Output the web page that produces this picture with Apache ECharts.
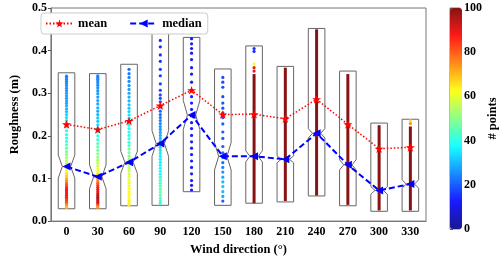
<!DOCTYPE html>
<html>
<head>
<meta charset="utf-8">
<script src="https://cdn.jsdelivr.net/npm/echarts@6/dist/echarts.min.js"></script>
<style>html,body{margin:0;padding:0;background:#fff;}#c{width:500px;height:261px;}</style>
</head>
<body>
<div id="c"></div>
<script>
// ---- data ----
const categories = ['0','30','60','90','120','150','180','210','240','270','300','330'];
const meanValues = [0.227,0.215,0.235,0.271,0.307,0.250,0.251,0.240,0.286,0.227,0.170,0.173];
const medianValues = [0.128,0.104,0.138,0.182,0.249,0.152,0.152,0.145,0.206,0.132,0.072,0.087];
// box: bottom, top, median, notch low, notch high
const boxBottom = [0.029,0.029,0.036,0.037,0.069,0.037,0.042,0.045,0.059,0.036,0.023,0.023];
const boxTop    = [0.348,0.346,0.368,0.465,0.431,0.357,0.411,0.363,0.452,0.352,0.230,0.239];
const notchLow  = [0.101,0.076,0.112,0.152,0.215,0.120,0.139,0.137,0.195,0.120,0.063,0.077];
const notchHigh = [0.155,0.132,0.164,0.212,0.283,0.184,0.165,0.153,0.217,0.144,0.081,0.097];
// dots: [roughness, # points]
const dots0 = [[0.340,24],[0.336,24],[0.332,25],[0.328,25],[0.323,25],[0.318,26],[0.312,26],[0.306,26],[0.300,27],[0.294,27],[0.288,27],[0.282,28],[0.276,28],[0.270,29],[0.263,30],[0.257,31],[0.250,33],[0.243,34],[0.236,35],[0.229,36],[0.221,37],[0.212,38],[0.203,39],[0.195,40],[0.187,42],[0.179,44],[0.171,46],[0.163,48],[0.156,50],[0.149,53],[0.142,55],[0.136,57],[0.130,59],[0.124,61],[0.118,63],[0.112,65],[0.106,68],[0.100,71],[0.095,74],[0.090,78],[0.085,82],[0.080,85],[0.076,87],[0.072,88],[0.068,88],[0.064,88],[0.060,88],[0.056,87],[0.052,86],[0.048,84],[0.044,82],[0.040,78],[0.036,74],[0.032,70]];
const dots30 = [[0.341,24],[0.337,24],[0.333,25],[0.329,25],[0.324,25],[0.319,26],[0.313,26],[0.306,26],[0.299,27],[0.291,27],[0.283,28],[0.275,28],[0.266,29],[0.258,29],[0.250,30],[0.242,31],[0.234,32],[0.226,34],[0.218,36],[0.209,38],[0.200,40],[0.191,42],[0.182,44],[0.174,46],[0.166,48],[0.158,50],[0.150,52],[0.143,54],[0.136,56],[0.129,58],[0.122,60],[0.116,62],[0.110,65],[0.104,68],[0.099,72],[0.094,76],[0.089,80],[0.084,84],[0.079,87],[0.074,89],[0.069,90],[0.064,92],[0.060,94],[0.056,95],[0.052,95],[0.048,94],[0.044,92],[0.040,88],[0.036,80],[0.032,74]];
const dots60 = [[0.356,22],[0.346,23],[0.337,24],[0.328,25],[0.318,26],[0.309,27],[0.300,28],[0.291,29],[0.282,30],[0.273,31],[0.265,32],[0.257,33],[0.249,34],[0.241,35],[0.233,36],[0.225,37],[0.217,38],[0.209,39],[0.201,40],[0.193,41],[0.185,42],[0.177,44],[0.169,46],[0.161,48],[0.153,50],[0.146,52],[0.139,54],[0.132,55],[0.125,56],[0.118,57],[0.111,58],[0.104,59],[0.097,60],[0.090,60],[0.083,61],[0.076,62],[0.069,62],[0.062,63],[0.055,63],[0.048,64],[0.042,64],[0.038,64]];
const dots90 = [[0.443,14],[0.424,14],[0.409,15],[0.390,15],[0.375,15],[0.356,16],[0.341,16],[0.322,17],[0.307,17],[0.296,18],[0.288,18],[0.280,19],[0.268,20],[0.258,21],[0.250,22],[0.243,23],[0.236,24],[0.229,25],[0.222,26],[0.215,27],[0.208,28],[0.201,29],[0.194,30],[0.187,31],[0.180,32],[0.173,33],[0.166,34],[0.159,35],[0.152,35],[0.145,36],[0.138,36],[0.131,37],[0.124,37],[0.117,38],[0.110,38],[0.103,40],[0.096,42],[0.089,44],[0.082,45],[0.075,46],[0.068,46],[0.061,45],[0.054,44],[0.048,42],[0.042,40]];
const dots120 = [[0.428,12],[0.416,12],[0.405,12],[0.394,12],[0.379,12],[0.360,12],[0.345,12],[0.326,12],[0.307,13],[0.292,13],[0.277,13],[0.262,13],[0.247,13],[0.231,13],[0.217,13],[0.201,13],[0.186,13],[0.171,13],[0.156,13],[0.141,13],[0.126,13],[0.111,13],[0.095,13],[0.084,12],[0.073,12]];
const dots150 = [[0.337,18],[0.326,18],[0.314,18],[0.292,18],[0.277,19],[0.265,19],[0.254,20],[0.243,20],[0.228,20],[0.209,20],[0.194,20],[0.175,20],[0.160,21],[0.149,22],[0.137,22],[0.126,24],[0.115,26],[0.103,28],[0.092,30],[0.081,31],[0.069,30],[0.058,28],[0.047,20]];
const dots180 = [[0.405,15],[0.398,15],[0.369,62],[0.360,88],[0.352,90]];
const dots330 = [[0.235,65],[0.229,75]];
// dense strips of points: [category index, low, # points, high]
const strips = [[6,0.042,100,0.345],[7,0.047,100,0.360],[8,0.060,100,0.450],[9,0.038,100,0.345],[10,0.025,100,0.225],[11,0.025,100,0.222]];
const colorTicks = [0,20,40,60,80,100];

// ---- build ----
const dotSets = {0:dots0,1:dots30,2:dots60,3:dots90,4:dots120,5:dots150,6:dots180,11:dots330};
const scatterData = [];
Object.keys(dotSets).forEach(k => dotSets[k].forEach(d => scatterData.push([+k, d[0], d[1]])));
const boxData = categories.map((c,i) => [i, boxBottom[i], boxTop[i], medianValues[i], notchLow[i], notchHigh[i]]);

const FONT = 'Liberation Serif';
const lbl = {fontFamily: FONT, fontWeight: 'bold', fontSize: 12, color: '#000'};
const jet = ['#19198e','#1919ff','#198bff','#19ffff','#8bff8b','#ffff19','#ff8b19','#ff1919','#861414'];
const STAR = 'path://M50,0 L61.8,35.1 L97.6,35.1 L68.8,56.8 L79.4,91.2 L50,70.3 L20.6,91.2 L31.2,56.8 L2.4,35.1 L38.2,35.1 Z';

const chart = echarts.init(document.getElementById('c'), null, {renderer: 'canvas'});
chart.setOption({
  animation: false,
  backgroundColor: '#fff',
  grid: [
    {left: 36, right: 74, top: 8, bottom: 32, show: true, borderColor: '#777', borderWidth: 1},
    {left: 450, width: 12, top: 8, bottom: 32, show: true, borderColor: '#777', borderWidth: 1}
  ],
  legend: {
    data: ['mean','median'], left: 41, top: 13, orient: 'horizontal',
    itemWidth: 27, itemHeight: 10, itemGap: 22, padding: [4, 6, 4, 4],
    borderColor: '#ccc', borderWidth: 1, borderRadius: 3, backgroundColor: '#fff',
    textStyle: {fontFamily: FONT, fontWeight: 'bold', fontSize: 12.5, color: '#000'}
  },
  xAxis: [
    {type: 'category', data: categories, gridIndex: 0,
     name: 'Wind direction (°)', nameLocation: 'middle', nameGap: 21,
     nameTextStyle: {fontFamily: FONT, fontWeight: 'bold', fontSize: 12.5, color: '#000'},
     axisLine: {lineStyle: {color: '#777'}},
     axisTick: {alignWithLabel: true, length: 3, lineStyle: {color: '#555'}},
     axisLabel: Object.assign({margin: 5}, lbl), splitLine: {show: false}},
    {type: 'value', gridIndex: 1, show: false, min: 0, max: 1}
  ],
  yAxis: [
    {type: 'value', gridIndex: 0, min: 0, max: 0.5, interval: 0.1,
     name: 'Roughness (m)', nameLocation: 'middle', nameGap: 23,
     nameTextStyle: {fontFamily: FONT, fontWeight: 'bold', fontSize: 12.5, color: '#000'},
     axisLine: {show: true, lineStyle: {color: '#777'}},
     axisTick: {show: true, length: 3, lineStyle: {color: '#555'}},
     axisLabel: Object.assign({margin: 4, formatter: v => v.toFixed(1)}, lbl),
     splitLine: {show: false}},
    {type: 'value', gridIndex: 1, position: 'right', min: 0, max: 100, interval: 20,
     name: '# points', nameLocation: 'middle', nameGap: 26,
     nameTextStyle: {fontFamily: FONT, fontWeight: 'bold', fontSize: 12.5, color: '#000'},
     axisLine: {show: false},
     axisTick: {show: true, length: 3, lineStyle: {color: '#555'}},
     axisLabel: Object.assign({margin: 4}, lbl),
     splitLine: {show: false}}
  ],
  visualMap: {
    type: 'continuous', min: 0, max: 100, dimension: 2, seriesIndex: [1, 2],
    orient: 'vertical', left: 450, top: 8, itemWidth: 12, itemHeight: 221,
    padding: 0, calculable: false, hoverLink: false, text: null, showLabel: false,
    inRange: {color: jet}
  },
  series: [
    {type: 'custom', name: 'box', xAxisIndex: 0, yAxisIndex: 0, z: 1,
     data: boxData,
     renderItem: function (params, api) {
       const x = api.value(0);
       const pB = api.coord([x, api.value(1)]);
       const pT = api.coord([x, api.value(2)]);
       const pM = api.coord([x, api.value(3)]);
       const pL = api.coord([x, api.value(4)]);
       const pH = api.coord([x, api.value(5)]);
       const w = api.size([1, 0])[0] * 0.265;
       const cx = pB[0];
       const pts = [[cx-w,pB[1]],[cx+w,pB[1]],[cx+w,pL[1]],[cx+w/2,pM[1]],[cx+w,pH[1]],[cx+w,pT[1]],
                    [cx-w,pT[1]],[cx-w,pH[1]],[cx-w/2,pM[1]],[cx-w,pL[1]]];
       return {type: 'group', children: [
         {type: 'polygon', shape: {points: pts}, style: {fill: 'none', stroke: '#666', lineWidth: 1}},
         {type: 'line', shape: {x1: cx-w/2, y1: pM[1], x2: cx+w/2, y2: pM[1]}, style: {stroke: '#ff7f0e', lineWidth: 1}}
       ]};
     }},
    {type: 'scatter', name: 'dots', xAxisIndex: 0, yAxisIndex: 0, z: 2,
     symbolSize: 3.2, data: scatterData, itemStyle: {opacity: 1}},
    {type: 'custom', name: 'strips', xAxisIndex: 0, yAxisIndex: 0, z: 2,
     encode: {x: 0, y: [1, 3]},
     data: strips,
     renderItem: function (params, api) {
       const x = api.value(0);
       const p1 = api.coord([x, api.value(1)]);
       const p2 = api.coord([x, api.value(3)]);
       return {type: 'line', shape: {x1: p1[0], y1: p1[1], x2: p2[0], y2: p2[1]},
               style: {stroke: api.visual('color'), lineWidth: 3}};
     }},
    {type: 'line', name: 'mean', xAxisIndex: 0, yAxisIndex: 0, z: 5, data: meanValues,
     symbol: STAR, symbolKeepAspect: true, symbolSize: 9, color: '#ff0000',
     itemStyle: {color: '#ff0000'},
     lineStyle: {color: '#ff0000', width: 1.5, type: [1.5, 2]}},
    {type: 'line', name: 'median', xAxisIndex: 0, yAxisIndex: 0, z: 5, data: medianValues,
     symbol: 'triangle', symbolRotate: 90, symbolSize: 8, color: '#0000ff',
     itemStyle: {color: '#0000ff'},
     lineStyle: {color: '#0000ff', width: 2, type: [6, 3]}}
  ]
});
</script>
</body>
</html>
